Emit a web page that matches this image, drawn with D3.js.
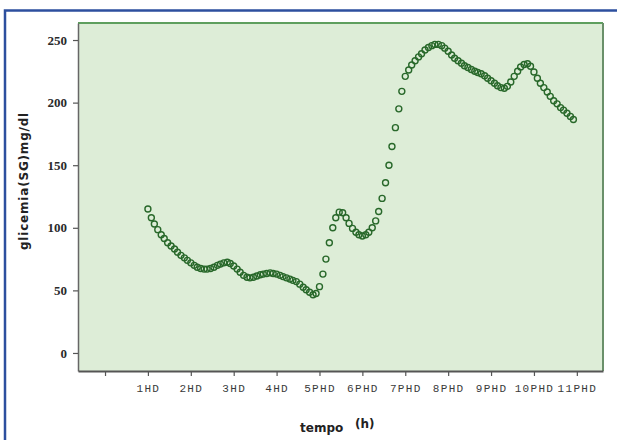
<!DOCTYPE html>
<html>
<head>
<meta charset="utf-8">
<script src="https://cdn.jsdelivr.net/npm/d3@7"></script>
<style>
  body { margin: 0; background: #fff; }
  svg { display: block; }
</style>
</head>
<body>
<svg id="chart"></svg>
<script>
// sample times (hours) and glucose readings (mg/dl)
const sampleHours = [
  1.00, 1.08, 1.15, 1.23, 1.31, 1.38, 1.46, 1.54, 1.62, 1.69, 1.77, 1.85, 1.92,
  2.00, 2.08, 2.15, 2.23, 2.31, 2.38, 2.46, 2.54, 2.62, 2.69, 2.77, 2.85, 2.92,
  3.00, 3.08, 3.15, 3.23, 3.31, 3.38, 3.46, 3.54, 3.62, 3.69, 3.77, 3.85, 3.92,
  4.00, 4.08, 4.15, 4.23, 4.31, 4.38, 4.46, 4.54, 4.62, 4.69, 4.77, 4.85, 4.92,
  5.00, 5.08, 5.15, 5.23, 5.31, 5.38, 5.46, 5.54, 5.62, 5.69, 5.77, 5.85, 5.92,
  6.00, 6.08, 6.15, 6.23, 6.31, 6.38, 6.46, 6.54, 6.62, 6.69, 6.77, 6.85, 6.92,
  7.00, 7.08, 7.15, 7.23, 7.31, 7.38, 7.46, 7.54, 7.62, 7.69, 7.77, 7.85, 7.92,
  8.00, 8.08, 8.15, 8.23, 8.31, 8.38, 8.46, 8.54, 8.62, 8.69, 8.77, 8.85, 8.92,
  9.00, 9.08, 9.15, 9.23, 9.31, 9.38, 9.46, 9.54, 9.62, 9.69, 9.77, 9.85, 9.92,
  10.00, 10.08, 10.15, 10.23, 10.31, 10.38, 10.46, 10.54, 10.62, 10.69, 10.77, 10.85, 10.92
];

const glucose = [
  115, 108, 103, 98.5, 94.5, 91.5, 88, 85.5, 83, 80.5, 78, 76, 74,
  72, 70, 68.5, 67.5, 67, 67, 67.5, 68.5, 70, 71, 72, 72.5, 71.5,
  69.5, 67, 64.5, 62, 60.5, 60, 60.5, 61.5, 62.5, 63, 63.5, 64, 63.5,
  63, 62, 61, 60, 59, 58, 57, 55, 52.5, 50.5, 48.5, 46.5, 47.5,
  53, 63, 75, 88, 100, 108, 112.5, 112, 108, 103.5, 99.5, 96.5, 94.5,
  93.5, 94.5, 96.5, 100, 105.5, 113, 123.5, 136, 150, 165, 180, 195, 209,
  221, 226, 230, 233.5, 236.5, 239, 242, 244, 245.5, 246.5, 246.5, 245.5, 243.5,
  241, 238, 235.5, 233.5, 231.5, 229.5, 228, 226.5, 225, 224, 223, 221.5, 219.5,
  217.5, 215.5, 213.5, 212, 211.5, 213, 216.5, 221, 225, 228.5, 230.5, 231, 229,
  224.5, 219.5, 215.5, 212, 208.5, 205, 201.5, 199, 196, 194, 191.5, 189, 186.5
];

const xTickHours = [0, 1, 2, 3, 4, 5, 6, 7, 8, 9, 10, 11];
const xTickLabels = ["", "1HD", "2HD", "3HD", "4HD", "5PHD", "6PHD", "7PHD", "8PHD", "9PHD", "10PHD", "11PHD"];
const yTicks = [0, 50, 100, 150, 200, 250];

const width = 617;
const height = 440;
const plot = { left: 78, right: 603, top: 23, bottom: 371 };

const points = sampleHours.map((h, i) => ({ h, v: glucose[i] }));

const svg = d3.select("#chart").attr("width", width).attr("height", height);

svg.append("rect")
  .attr("width", width)
  .attr("height", height)
  .attr("fill", "#ffffff");

// blue frame of the figure (runs off the right and bottom)
svg.append("rect")
  .attr("x", 5)
  .attr("y", 10.5)
  .attr("width", 700)
  .attr("height", 500)
  .attr("fill", "none")
  .attr("stroke", "#2d4f9e")
  .attr("stroke-width", 2.5);

const x = d3.scaleLinear().domain([-0.63, 11.61]).range([plot.left, plot.right]);
const y = d3.scaleLinear().domain([-14.4, 263.6]).range([plot.bottom, plot.top]);

svg.append("rect")
  .attr("x", plot.left)
  .attr("y", plot.top)
  .attr("width", plot.right - plot.left)
  .attr("height", plot.bottom - plot.top)
  .attr("fill", "#ddedd7");

// green top / right frame lines
svg.append("line")
  .attr("x1", plot.left).attr("x2", plot.right)
  .attr("y1", plot.top).attr("y2", plot.top)
  .attr("stroke", "#5e9f5e").attr("stroke-width", 2);
svg.append("line")
  .attr("x1", plot.right).attr("x2", plot.right)
  .attr("y1", plot.top).attr("y2", plot.bottom)
  .attr("stroke", "#6a906a").attr("stroke-width", 2);

const yAxis = svg.append("g")
  .attr("transform", `translate(${plot.left},0)`)
  .call(d3.axisLeft(y).tickValues(yTicks).tickSize(5).tickPadding(6).tickSizeOuter(0));

yAxis.select(".domain").attr("stroke", "#666").attr("stroke-width", 1.5);
yAxis.selectAll(".tick line").attr("stroke", "#555").attr("stroke-width", 1.2);
yAxis.selectAll(".tick text")
  .attr("font-family", "'Liberation Serif', serif")
  .attr("font-weight", "bold")
  .attr("font-size", 13)
  .attr("fill", "#2a2a2a");

const xAxis = svg.append("g")
  .attr("transform", `translate(0,${plot.bottom})`)
  .call(d3.axisBottom(x)
    .tickValues(xTickHours)
    .tickFormat((d, i) => xTickLabels[i])
    .tickSize(5)
    .tickPadding(8.5)
    .tickSizeOuter(0));

xAxis.select(".domain").attr("stroke", "#555").attr("stroke-width", 2);
xAxis.selectAll(".tick line").attr("stroke", "#555").attr("stroke-width", 1.2);
xAxis.selectAll(".tick text")
  .attr("font-family", "'Liberation Mono', monospace")
  .attr("font-size", 11)
  .attr("letter-spacing", 1.3)
  .attr("fill", "#3a3a3a");

svg.append("g")
  .selectAll("circle")
  .data(points)
  .join("circle")
  .attr("cx", d => x(d.h))
  .attr("cy", d => y(d.v))
  .attr("r", 3)
  .attr("fill", "none")
  .attr("stroke", "#28682a")
  .attr("stroke-width", 1.4);

// axis titles
svg.append("text")
  .attr("x", 300)
  .attr("y", 432)
  .attr("font-family", "'DejaVu Sans', sans-serif")
  .attr("font-weight", "bold")
  .attr("font-size", 12)
  .attr("fill", "#222")
  .text("tempo");

svg.append("text")
  .attr("x", 355)
  .attr("y", 428)
  .attr("font-family", "'DejaVu Sans', sans-serif")
  .attr("font-weight", "bold")
  .attr("font-size", 12)
  .attr("fill", "#222")
  .text("(h)");

svg.append("text")
  .attr("transform", "translate(28,181) rotate(-90)")
  .attr("text-anchor", "middle")
  .attr("font-family", "'DejaVu Sans', sans-serif")
  .attr("font-weight", "bold")
  .attr("font-size", 12)
  .attr("letter-spacing", 0.8)
  .attr("fill", "#222")
  .text("glicemia(SG)mg/dl");
</script>
</body>
</html>
